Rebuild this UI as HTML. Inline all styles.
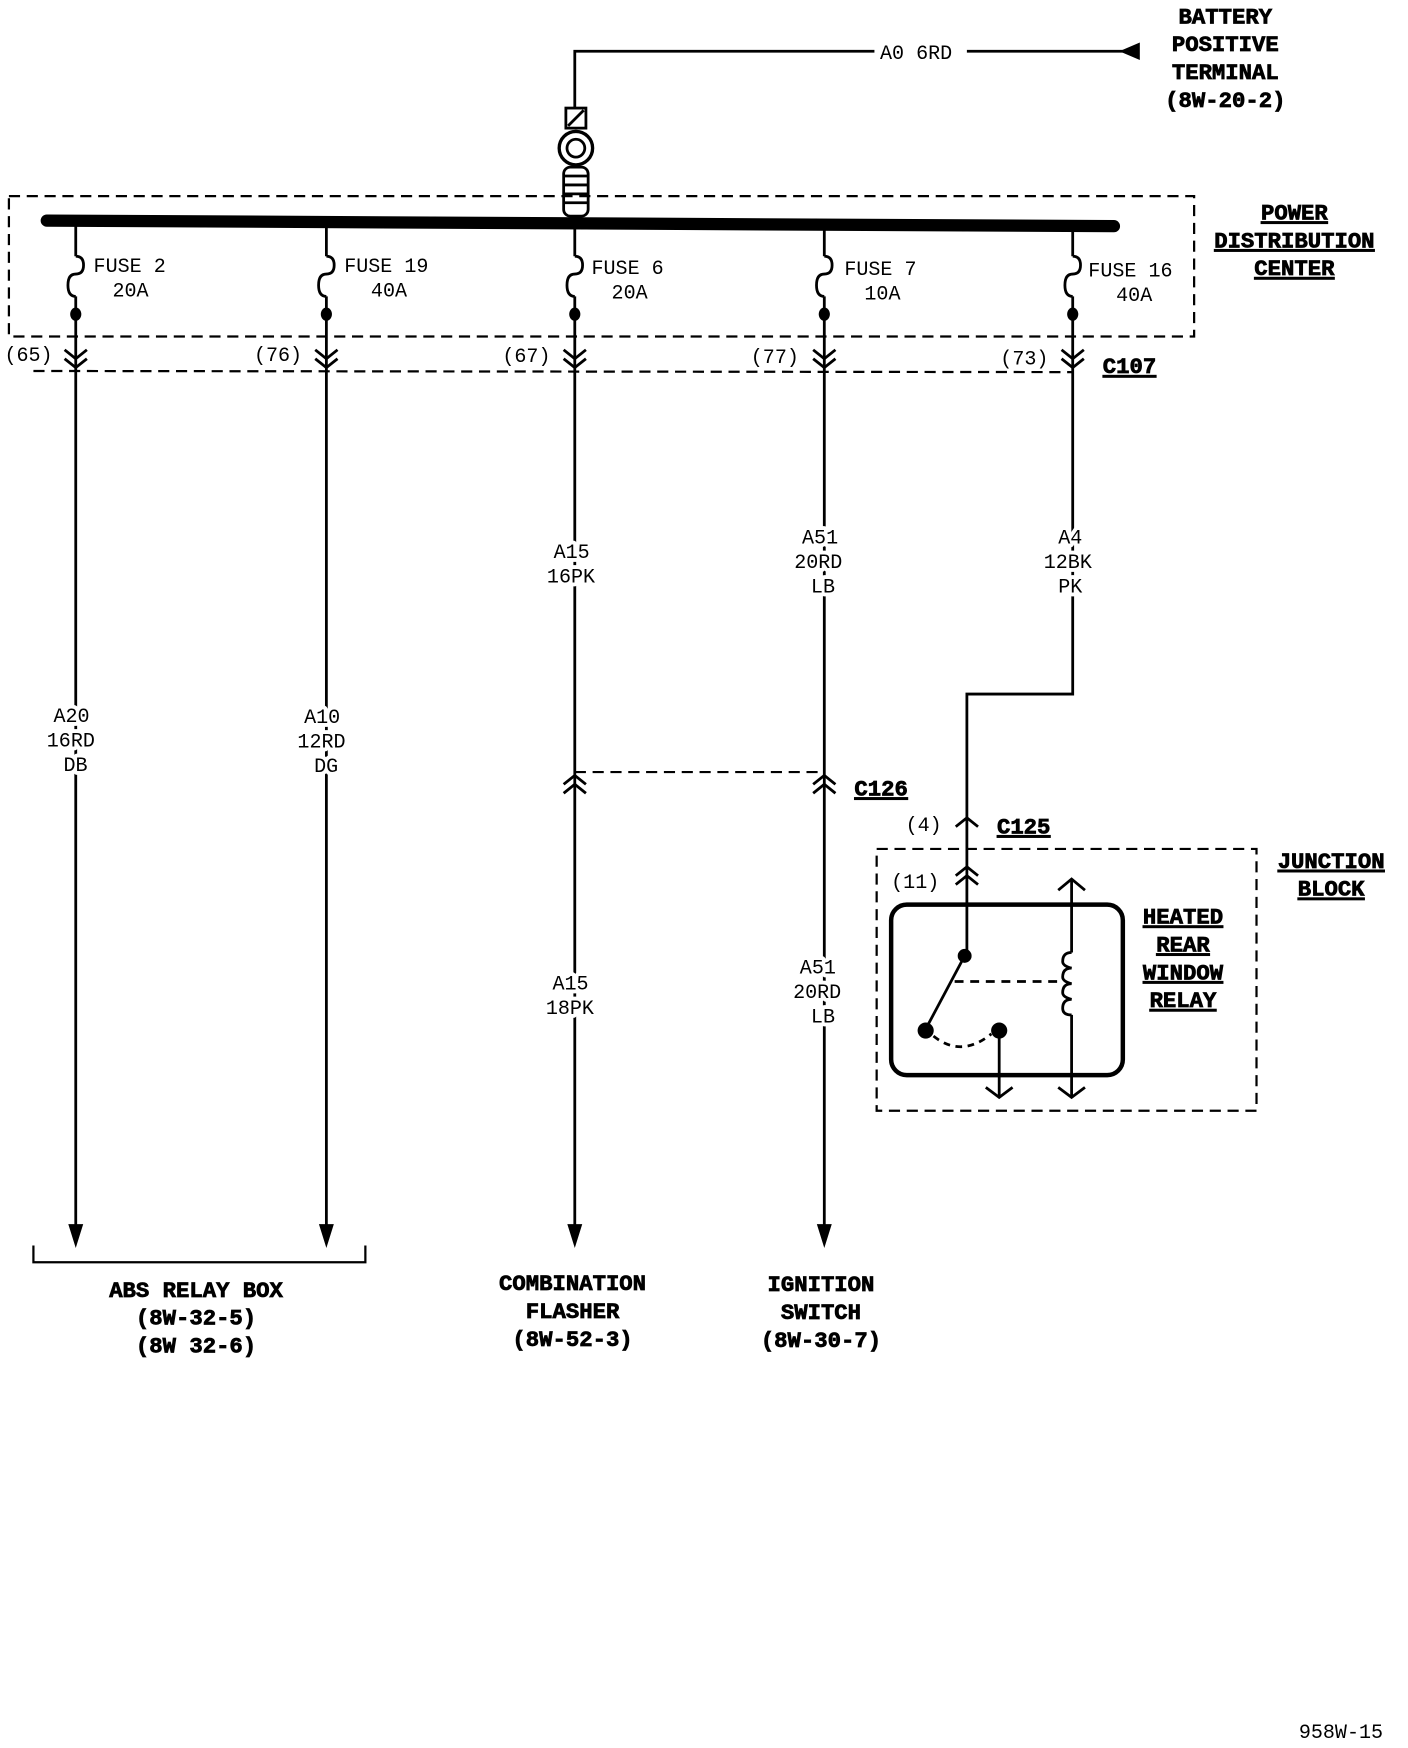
<!DOCTYPE html>
<html><head><meta charset="utf-8"><style>
html,body{margin:0;padding:0;background:#fff;}
svg{display:block;}
text{font-family:"Liberation Mono",monospace;fill:#000;}
.b{font-family:"Liberation Sans",sans-serif;font-weight:bold;font-size:20px;stroke:#000;stroke-width:0.7;}
.s{font-size:18px;}
.h text{stroke:#fff;stroke-width:7px;paint-order:stroke;stroke-linejoin:round;}
</style></head><body>
<svg width="1408" height="1748" viewBox="0 0 1264 1569" preserveAspectRatio="none" xmlns="http://www.w3.org/2000/svg">
<g stroke="#000" fill="none" stroke-width="2.5">
<polyline points="516,97 516,46 785,46"/>
<line x1="868" y1="46" x2="1008" y2="46"/>
<polygon points="1008,46 1022,40 1022,52" fill="#000"/>
<rect x="508" y="97" width="18" height="18"/>
<line x1="510" y1="113" x2="524" y2="99"/>
<circle cx="517" cy="133" r="15" stroke-width="3"/>
<circle cx="517" cy="133" r="8"/>
<rect x="506" y="150" width="22" height="44" rx="6"/>
<line x1="506" y1="158" x2="528" y2="158"/><line x1="506" y1="166" x2="528" y2="166"/>
<line x1="506" y1="174" x2="528" y2="174"/><line x1="506" y1="182" x2="528" y2="182"/>
<line x1="42" y1="198" x2="1000" y2="203" stroke-width="11" stroke-linecap="round"/>
<rect x="8" y="176" width="1064" height="126" stroke-dasharray="10,6" stroke-width="2"/>
<line x1="30" y1="333" x2="963" y2="334" stroke-dasharray="10,6" stroke-width="2"/>
<line x1="516" y1="693" x2="740" y2="693" stroke-dasharray="10,6" stroke-width="2"/>
<rect x="787" y="762" width="341" height="235" stroke-dasharray="10,6" stroke-width="2"/>
<rect x="800" y="812" width="208" height="153" rx="14" stroke-width="4"/>
</g>
<defs>
<g id="fuse" stroke="#000" fill="none" stroke-width="2.5">
<line x1="0" y1="203" x2="0" y2="230"/>
<path d="M0,230 q7,0 7,8 q0,8 -7,8 q-7,0 -7,10 q0,10 7,10"/>
<line x1="0" y1="266" x2="0" y2="330"/>
<ellipse cx="0" cy="282" rx="5" ry="6" fill="#000" stroke="none"/>
<polyline points="-10,314 0,322 10,314"/>
<polyline points="-10,322 0,330 10,322"/>
</g>
</defs>
<use href="#fuse" x="68"/><use href="#fuse" x="293"/><use href="#fuse" x="516"/><use href="#fuse" x="740"/><use href="#fuse" x="963"/>
<g stroke="#000" fill="none" stroke-width="2.5">
<line x1="68" y1="330" x2="68" y2="1105"/><polygon points="63,1100 73,1100 68,1116" fill="#000"/>
<line x1="293" y1="330" x2="293" y2="1105"/><polygon points="288,1100 298,1100 293,1116" fill="#000"/>
<line x1="516" y1="330" x2="516" y2="1105"/><polygon points="511,1100 521,1100 516,1116" fill="#000"/>
<line x1="740" y1="330" x2="740" y2="1105"/><polygon points="735,1100 745,1100 740,1116" fill="#000"/>
<polyline points="963,330 963,623 868,623 868,858"/>
<polyline points="506,704 516,696 526,704"/><polyline points="506,712 516,704 526,712"/>
<polyline points="730,704 740,696 750,704"/><polyline points="730,712 740,704 750,712"/>
<polyline points="858,742 868,734 878,742"/>
<polyline points="858,786 868,778 878,786"/><polyline points="858,794 868,786 878,794"/>
<polyline points="30,1118 30,1133 328,1133 328,1118" stroke-width="2"/>
<circle cx="866" cy="858" r="5" fill="#000"/>
<line x1="866" y1="858" x2="833" y2="920"/>
<circle cx="831" cy="925" r="6" fill="#000"/>
<path d="M838,930 q25,20 52,-2" stroke-dasharray="6,5"/>
<circle cx="897" cy="925" r="6" fill="#000"/>
<line x1="897" y1="925" x2="897" y2="985"/>
<polyline points="885,976 897,985 909,976"/>
<line x1="857" y1="881" x2="952" y2="881" stroke-dasharray="8,6"/>
<line x1="962" y1="789" x2="962" y2="855"/>
<polyline points="950,799 962,789 974,799"/>
<path d="M962,855 q-8,0 -8,8 q0,4 8,6 q-8,0 -8,8 q0,4 8,6 q-8,0 -8,8 q0,4 8,6 q-8,0 -8,8 q0,6 8,6"/>
<line x1="962" y1="911" x2="962" y2="985"/>
<polyline points="950,976 962,985 974,976"/>
</g>
<g class="s h">
<text x="790" y="53">A0 6RD</text>
<text x="497" y="501">A15</text><text x="491" y="523">16PK</text>
<text x="720" y="488">A51</text><text x="713" y="510">20RD</text><text x="728" y="532">LB</text>
<text x="950" y="488">A4</text><text x="937" y="510">12BK</text><text x="950" y="532">PK</text>
<text x="48" y="648">A20</text><text x="42" y="670">16RD</text><text x="57" y="692">DB</text>
<text x="273" y="649">A10</text><text x="267" y="671">12RD</text><text x="282" y="693">DG</text>
<text x="496" y="888">A15</text><text x="490" y="910">18PK</text>
<text x="718" y="874">A51</text><text x="712" y="896">20RD</text><text x="728" y="918">LB</text>
</g>
<g class="s">
<text x="84" y="244">FUSE 2</text><text x="101" y="266">20A</text>
<text x="309" y="244">FUSE 19</text><text x="333" y="266">40A</text>
<text x="531" y="246">FUSE 6</text><text x="549" y="268">20A</text>
<text x="758" y="247">FUSE 7</text><text x="776" y="269">10A</text>
<text x="977" y="248">FUSE 16</text><text x="1002" y="270">40A</text>
<text x="4" y="324">(65)</text><text x="228" y="324">(76)</text><text x="451" y="325">(67)</text>
<text x="674" y="326">(77)</text><text x="898" y="327">(73)</text>
<text x="813" y="746">(4)</text><text x="800" y="797">(11)</text>
<text x="1166" y="1560">958W-15</text>
</g>
<g class="b" text-anchor="middle">
<text x="1100" y="21">BATTERY</text><text x="1100" y="46">POSITIVE</text>
<text x="1100" y="71">TERMINAL</text><text x="1100" y="96">(8W-20-2)</text>
<text x="1162" y="197" text-decoration="underline">POWER</text>
<text x="1162" y="222" text-decoration="underline">DISTRIBUTION</text>
<text x="1162" y="247" text-decoration="underline">CENTER</text>
<text x="1014" y="335" text-decoration="underline">C107</text>
<text x="791" y="714" text-decoration="underline">C126</text>
<text x="919" y="748" text-decoration="underline">C125</text>
<text x="1195" y="779" text-decoration="underline">JUNCTION</text>
<text x="1195" y="804" text-decoration="underline">BLOCK</text>
<text x="1062" y="829" text-decoration="underline">HEATED</text>
<text x="1062" y="854" text-decoration="underline">REAR</text>
<text x="1062" y="879" text-decoration="underline">WINDOW</text>
<text x="1062" y="904" text-decoration="underline">RELAY</text>
<text x="176" y="1164">ABS RELAY BOX</text>
<text x="176" y="1189">(8W-32-5)</text><text x="176" y="1214">(8W 32-6)</text>
<text x="514" y="1158">COMBINATION</text><text x="514" y="1183">FLASHER</text><text x="514" y="1208">(8W-52-3)</text>
<text x="737" y="1159">IGNITION</text><text x="737" y="1184">SWITCH</text><text x="737" y="1209">(8W-30-7)</text>
</g>
</svg>
</body></html>
